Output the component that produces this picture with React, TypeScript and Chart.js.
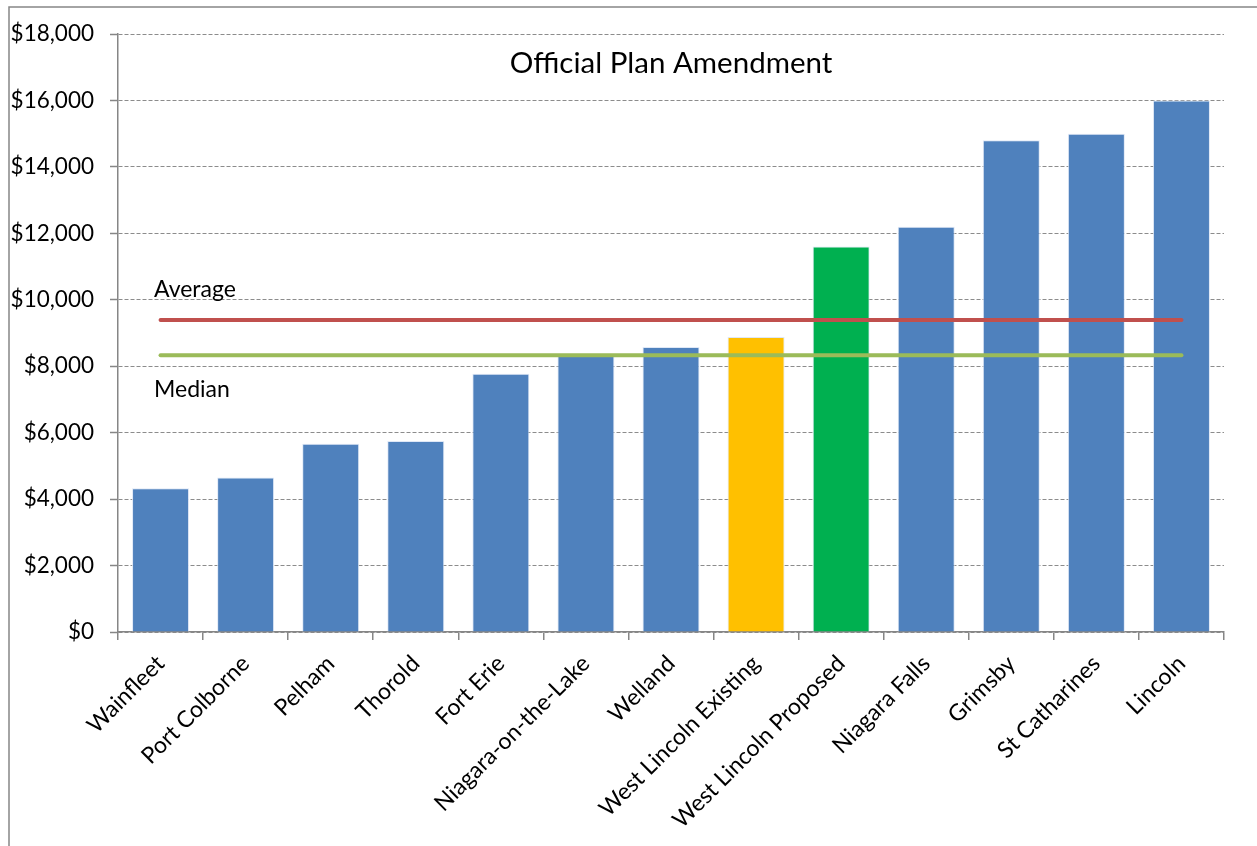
import React, { useEffect, useRef } from "react";
import { Chart, registerables } from "chart.js";

Chart.register(...registerables);

const categories = [
  "Wainfleet",
  "Port Colborne",
  "Pelham",
  "Thorold",
  "Fort Erie",
  "Niagara-on-the-Lake",
  "Welland",
  "West Lincoln Existing",
  "West Lincoln Proposed",
  "Niagara Falls",
  "Grimsby",
  "St Catharines",
  "Lincoln",
];
const fees = [4330, 4650, 5670, 5750, 7770, 8360, 8580, 8880, 11600, 12200, 14800, 15000, 16000];
const barColors = [
  "#4F81BD", "#4F81BD", "#4F81BD", "#4F81BD", "#4F81BD", "#4F81BD", "#4F81BD",
  "#FFC000", "#00B050",
  "#4F81BD", "#4F81BD", "#4F81BD", "#4F81BD",
];
const averageValue = 9390;
const medianValue = 8330;
const yTicks = [0, 2000, 4000, 6000, 8000, 10000, 12000, 14000, 16000, 18000];

const FONT = "Lato, 'Open Sans', sans-serif";

export default function App() {
  const ref = useRef<HTMLCanvasElement | null>(null);
  useEffect(() => {
    document.body.style.margin = "0";
    const canvas = ref.current;
    if (!canvas) return;
    const first = categories[0];
    const last = categories[categories.length - 1];
    const overlay = {
      id: "overlay",
      beforeDraw(chart: any) {
        const ctx = chart.ctx;
        ctx.save();
        ctx.fillStyle = "#ffffff";
        ctx.fillRect(0, 0, chart.width, chart.height);
        ctx.strokeStyle = "#868686";
        ctx.lineWidth = 1.5;
        ctx.strokeRect(9, 7, chart.width + 20, chart.height + 20);
        ctx.restore();
      },
      afterDraw(chart: any) {
        const ctx = chart.ctx;
        const y = chart.scales.y;
        ctx.save();
        ctx.fillStyle = "#000000";
        ctx.font = `29.5px ${FONT}`;
        ctx.textAlign = "center";
        ctx.textBaseline = "middle";
        ctx.fillText("Official Plan Amendment", (chart.chartArea.left + chart.chartArea.right) / 2, chart.chartArea.top + 29);
        ctx.font = `23px ${FONT}`;
        ctx.textAlign = "left";
        const lx = chart.chartArea.left + 36;
        ctx.fillText("Average", lx, y.getPixelForValue(averageValue) - 30);
        ctx.fillText("Median", lx, y.getPixelForValue(medianValue) + 34);
        ctx.restore();
      },
    };
    const chart = new Chart(canvas, {
      type: "bar",
      data: {
        labels: categories,
        datasets: [
          {
            type: "bar",
            label: "Fee",
            data: fees,
            backgroundColor: barColors,
            borderColor: "rgba(220,230,245,0.9)",
            borderWidth: 1,
            categoryPercentage: 1,
            barPercentage: 0.67,
            order: 2,
          },
          {
            type: "line",
            label: "Average",
            data: [
              { x: first, y: averageValue },
              { x: last, y: averageValue },
            ] as any,
            borderColor: "#C0504D",
            borderWidth: 4,
            borderCapStyle: "round",
            pointRadius: 0,
            order: 1,
          },
          {
            type: "line",
            label: "Median",
            data: [
              { x: first, y: medianValue },
              { x: last, y: medianValue },
            ] as any,
            borderColor: "#9BBB59",
            borderWidth: 4,
            borderCapStyle: "round",
            pointRadius: 0,
            order: 1,
          },
        ],
      },
      options: {
        animation: false,
        responsive: false,
        layout: { padding: { left: 0, right: 33, top: 34, bottom: 0 } },
        plugins: {
          legend: { display: false },
          title: { display: false },
          tooltip: { enabled: false },
        },
        scales: {
          x: {
            grid: {
              display: true,
              drawOnChartArea: false,
              drawTicks: true,
              tickLength: 8,
              color: "#868686",
              lineWidth: 1.5,
              offset: true,
            },
            border: { display: true, color: "#868686", width: 1.5 },
            ticks: {
              autoSkip: false,
              maxRotation: 45,
              minRotation: 45,
              padding: 10,
              color: "#000000",
              font: { family: FONT, size: 23 },
            },
            afterFit(s: any) {
              s.height = 214;
              s.paddingLeft = 0;
              s.paddingRight = 0;
            },
          },
          y: {
            min: 0,
            max: 18000,
            afterBuildTicks(s: any) {
              s.ticks = yTicks.map((v) => ({ value: v }));
            },
            grid: {
              color: "#8c8c8c",
              lineWidth: 1,
              tickLength: 8,
              tickColor: "#868686",
              tickWidth: 1.5,
              tickBorderDash: [],
            } as any,
            border: { display: true, color: "#868686", width: 1.5, dash: [4, 2] },
            ticks: {
              padding: 16,
              color: "#000000",
              font: { family: FONT, size: 22.5 },
              callback: (v: any) => "$" + Number(v).toLocaleString("en-US"),
            },
            afterFit(s: any) {
              s.width = 118;
              s.paddingTop = 0;
              s.paddingBottom = 0;
            },
          },
        },
      },
      plugins: [overlay],
    } as any);
    return () => chart.destroy();
  }, []);
  return <canvas ref={ref} width={1257} height={846} style={{ display: "block" }} />;
}
